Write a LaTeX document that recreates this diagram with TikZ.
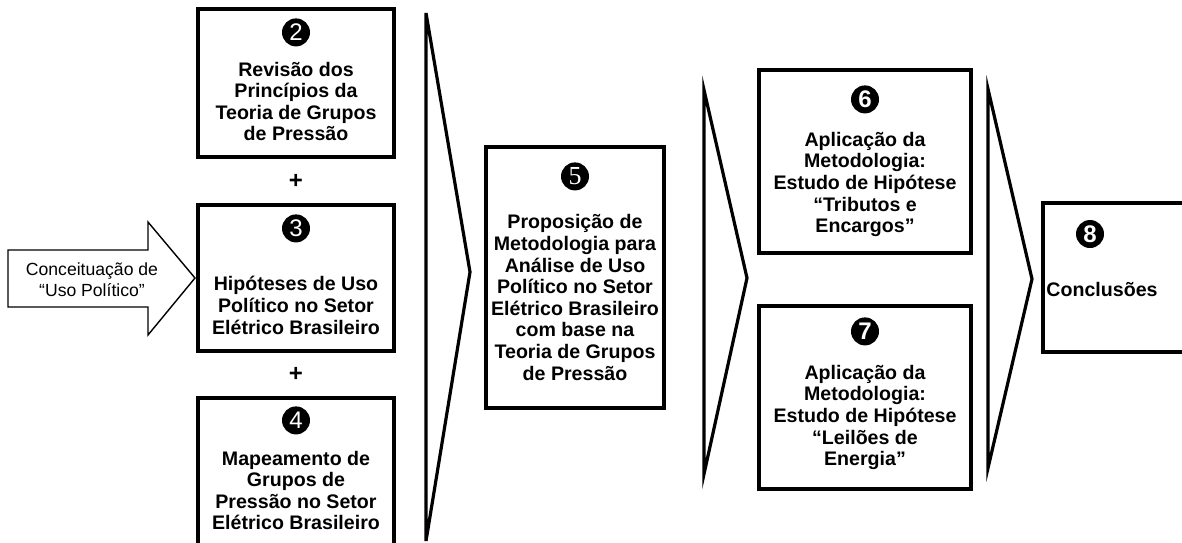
\documentclass[tikz,border=0pt]{standalone}
\usepackage{fontspec}
\setmainfont{Liberation Sans}
\newfontfamily\numserif{Liberation Serif}
\usetikzlibrary{calc}

\tikzset{
	etapa/.style={draw=black, line width=1.6pt, inner sep=0pt},
	texto/.style={align=center, inner sep=0pt, font=\fontsize{9.8}{10.8}\selectfont\bfseries},
	numero/.style={circle, fill=black, text=white, minimum size=14pt, inner sep=0pt, font=\fontsize{12}{12}\selectfont},
	chevron/.style={line width=1.6pt, line join=miter},
}

\begin{document}
\begin{tikzpicture}[x=0.5pt, y=-0.5pt]
			\useasboundingbox (0,0) rectangle (1182,542);

			% entrada
			\draw[line width=0.7pt] (8,250) -- (148,250) -- (148,222) -- (195,278) -- (148,335) -- (148,307) -- (8,307) -- cycle;
			\node[align=center, inner sep=0pt, font=\fontsize{8.8}{10.6}\selectfont] (conc) at (92,280) {Conceitua\c{c}\~ao de\\``Uso Pol\'itico''};

			% etapas 2, 3, 4
			\node[etapa, minimum width=98pt, minimum height=74pt] (b2) at (296,83) {};
			\node[numero] (n2) at ($(b2.north)+(0,25)$) {2};
			\node[texto] (t2) at ($(b2.north)+(0,94)$) {Revis\~ao dos\\Princ\'ipios da\\Teoria de Grupos\\de Press\~ao};

			\node[etapa, minimum width=98pt, minimum height=73pt] (b3) at (296,278) {};
			\node[numero] (n3) at ($(b3.north)+(0,25)$) {3};
			\node[texto] (t3) at ($(b3.north)+(0,102)$) {Hip\'oteses de Uso\\Pol\'itico no Setor\\El\'etrico Brasileiro};

			\node[etapa, minimum width=98pt, minimum height=77pt] (b4) at (296,475) {};
			\node[numero] (n4) at ($(b4.north)+(0,24)$) {4};
			\node[texto] (t4) at ($(b4.north)+(0,94)$) {Mapeamento de\\Grupos de\\Press\~ao no Setor\\El\'etrico Brasileiro};

			\node[texto, font=\fontsize{12}{12}\selectfont\bfseries] (mais1) at ($(b2.south)!0.5!(b3.north)$) {+};
			\node[texto, font=\fontsize{12}{12}\selectfont\bfseries] (mais2) at ($(b3.south)!0.5!(b4.north)$) {+};

			\draw[chevron] (426,13) -- (470,272) -- (426,541) -- cycle;

			% etapa 5
			\node[etapa, minimum width=89pt, minimum height=130.5pt] (b5) at (575,277.5) {};
			\node[numero, font=\fontsize{13}{13}\selectfont\numserif] (n5) at ($(b5.north)+(0,31)$) {5};
			\node[texto] (t5) at ($(b5.north)+(0,152)$) {Proposi\c{c}\~ao de\\Metodologia para\\An\'alise de Uso\\Pol\'itico no Setor\\El\'etrico Brasileiro\\com base na\\Teoria de Grupos\\de Press\~ao};

			\draw[chevron] (704,90) -- (747,278) -- (704,474) -- cycle;

			% etapas 6 e 7
			\node[etapa, minimum width=106pt, minimum height=91.5pt] (b6) at (865,161.5) {};
			\node[numero, font=\fontsize{12}{12}\selectfont\bfseries] (n6) at ($(b6.north)+(0,31)$) {6};
			\node[texto] (t6) at ($(b6.north)+(0,116)$) {Aplica\c{c}\~ao da\\Metodologia:\\Estudo de Hip\'otese\\``Tributos e\\Encargos''};

			\node[etapa, minimum width=106pt, minimum height=91.5pt] (b7) at (865,397.5) {};
			\node[numero, font=\fontsize{12}{12}\selectfont\bfseries] (n7) at ($(b7.north)+(0,27)$) {7};
			\node[texto] (t7) at ($(b7.north)+(0,113)$) {Aplica\c{c}\~ao da\\Metodologia:\\Estudo de Hip\'otese\\``Leil\~oes de\\Energia\symbol{34}};

			\draw[chevron] (988,89) -- (1032,279) -- (988,468) -- cycle;

			% etapa 8
			\node[etapa, minimum width=76pt, minimum height=74.5pt] (b8) at (1119,277.5) {};
			\node[numero, font=\fontsize{12}{12}\selectfont\bfseries] (n8) at (1090,234) {8};
			\node[texto] (t8) at (1102,289) {Conclus\~oes};

\end{tikzpicture}
\end{document}
